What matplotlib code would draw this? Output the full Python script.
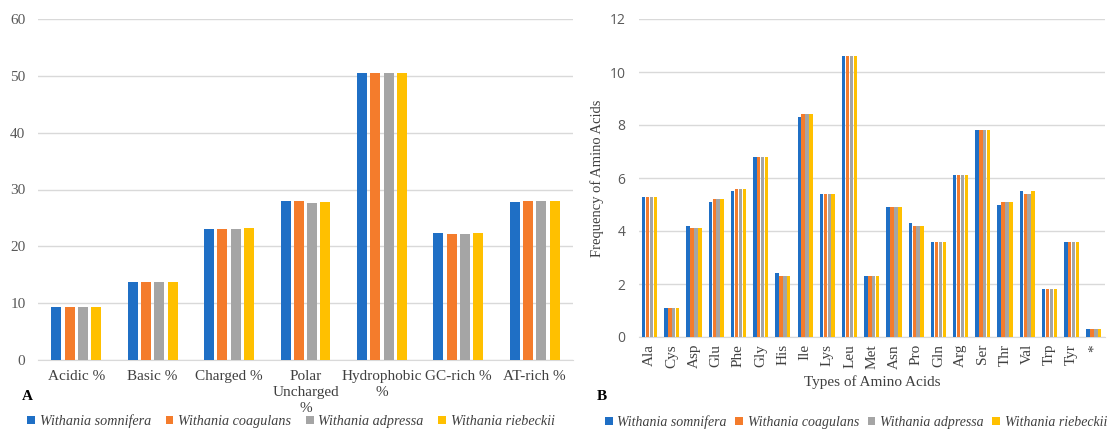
import matplotlib
matplotlib.use("Agg")
import matplotlib.pyplot as plt
import numpy as np
from matplotlib.patches import Patch

species = ["Withania somnifera", "Withania coagulans", "Withania adpressa", "Withania riebeckii"]
colors = ["#1F6FC5", "#F47C2C", "#A5A5A5", "#FFC000"]

cats_a = ["Acidic %", "Basic %", "Charged %", "Polar\nUncharged\n%", "Hydrophobic\n%", "GC-rich %", "AT-rich %"]
somnifera_a = [9.3, 13.8, 23.1, 27.9, 50.5, 22.4, 27.8]
coagulans_a = [9.3, 13.8, 23.1, 27.9, 50.5, 22.1, 27.9]
adpressa_a = [9.3, 13.7, 23.1, 27.7, 50.5, 22.1, 27.9]
riebeckii_a = [9.3, 13.8, 23.2, 27.8, 50.5, 22.4, 27.9]

cats_b = ["Ala", "Cys", "Asp", "Glu", "Phe", "Gly", "His", "Ile", "Lys", "Leu", "Met",
          "Asn", "Pro", "Gln", "Arg", "Ser", "Thr", "Val", "Trp", "Tyr", "*"]
somnifera_b = [5.3, 1.1, 4.2, 5.1, 5.5, 6.8, 2.4, 8.3, 5.4, 10.6, 2.3, 4.9, 4.3, 3.6, 6.1, 7.8, 5.0, 5.5, 1.8, 3.6, 0.3]
coagulans_b = [5.3, 1.1, 4.1, 5.2, 5.6, 6.8, 2.3, 8.4, 5.4, 10.6, 2.3, 4.9, 4.2, 3.6, 6.1, 7.8, 5.1, 5.4, 1.8, 3.6, 0.3]
adpressa_b = [5.3, 1.1, 4.1, 5.2, 5.6, 6.8, 2.3, 8.4, 5.4, 10.6, 2.3, 4.9, 4.2, 3.6, 6.1, 7.8, 5.1, 5.4, 1.8, 3.6, 0.3]
riebeckii_b = [5.3, 1.1, 4.1, 5.2, 5.6, 6.8, 2.3, 8.4, 5.4, 10.6, 2.3, 4.9, 4.2, 3.6, 6.1, 7.8, 5.1, 5.5, 1.8, 3.6, 0.3]

serif = ["Liberation Serif", "DejaVu Serif"]
sans = ["Open Sans", "DejaVu Sans"]
grid_c = "#D9D9D9"
tick_c = "#595959"
text_c = "#404040"

W, H = 1111, 430
fig = plt.figure(figsize=(W / 100, H / 100), dpi=100)

def rect(l, r, t, b):
    return [l / W, 1 - b / H, (r - l) / W, (b - t) / H]

# Panel A
axA = fig.add_axes(rect(38, 573, 19, 360))
series_a = [somnifera_a, coagulans_a, adpressa_a, riebeckii_a]
x = np.arange(len(cats_a))
step, bw = 0.174, 0.131
for i, (vals, c) in enumerate(zip(series_a, colors)):
    axA.bar(x + (i - 1.5) * step, vals, width=bw, color=c, zorder=3)
axA.set_xlim(-0.5, len(cats_a) - 0.5)
axA.set_ylim(0, 60)
axA.set_yticks(range(0, 61, 10))
axA.grid(axis="y", color=grid_c, linewidth=1, zorder=0)
for s in ["top", "right", "left"]:
    axA.spines[s].set_visible(False)
axA.spines["bottom"].set_color(grid_c)
axA.tick_params(length=0)
axA.set_xticks(x)
axA.set_xticklabels(cats_a, fontfamily=serif, fontsize=11, color=text_c, linespacing=1.3)
axA.tick_params(axis="x", pad=7)
axA.tick_params(axis="y", pad=9)
for lab in axA.get_yticklabels():
    lab.set_fontfamily(serif)
    lab.set_fontsize(11)
    lab.set_color(tick_c)

# Panel B
axB = fig.add_axes(rect(638.5, 1105, 19, 337))
series_b = [somnifera_b, coagulans_b, adpressa_b, riebeckii_b]
xb = np.arange(len(cats_b))
stepb, bwb = 0.175, 0.155
for i, (vals, c) in enumerate(zip(series_b, colors)):
    axB.bar(xb + (i - 1.5) * stepb, vals, width=bwb, color=c, zorder=3)
axB.set_xlim(-0.5, len(cats_b) - 0.5)
axB.set_ylim(0, 12)
axB.set_yticks(range(0, 13, 2))
axB.grid(axis="y", color=grid_c, linewidth=1, zorder=0)
for s in ["top", "right", "left"]:
    axB.spines[s].set_visible(False)
axB.spines["bottom"].set_color(grid_c)
axB.tick_params(length=0)
axB.set_xticks(xb)
axB.set_xticklabels(cats_b, fontfamily=serif, fontsize=11, color=text_c, rotation=90)
axB.tick_params(axis="x", pad=5)
axB.tick_params(axis="y", pad=9.5)
for lab in axB.get_yticklabels():
    lab.set_fontfamily(sans)
    lab.set_fontsize(10)
    lab.set_color(tick_c)
axB.set_xlabel("Types of Amino Acids", fontfamily=serif, fontsize=11, color=text_c, labelpad=5)
axB.set_ylabel("Frequency of Amino Acids", fontfamily=serif, fontsize=10.5, color=text_c, labelpad=4)

# Panel letters
fig.text(22 / W, 1 - 397 / H, "A", fontfamily=serif, fontsize=11, fontweight="bold", va="center", ha="left")
fig.text(597 / W, 1 - 396 / H, "B", fontfamily=serif, fontsize=11, fontweight="bold", va="center", ha="left")

# Legends
handles = [Patch(facecolor=c, edgecolor="none") for c in colors]
base_kw = dict(ncol=4, frameon=False, handlelength=0.56, handleheight=0.56, handletextpad=0.35,
               borderaxespad=0, borderpad=0)
legA = fig.legend(handles, species, loc="center", bbox_to_anchor=(291 / W, 1 - 421 / H),
                  columnspacing=1.0, prop={"family": serif, "style": "italic", "size": 10.2}, **base_kw)
for t in legA.get_texts():
    t.set_color(text_c)
legB = fig.legend(handles, species, loc="center", bbox_to_anchor=(856 / W, 1 - 422 / H),
                  columnspacing=0.6, prop={"family": serif, "style": "italic", "size": 10}, **base_kw)
for t in legB.get_texts():
    t.set_color(text_c)

fig.savefig("out.png", dpi=100)
